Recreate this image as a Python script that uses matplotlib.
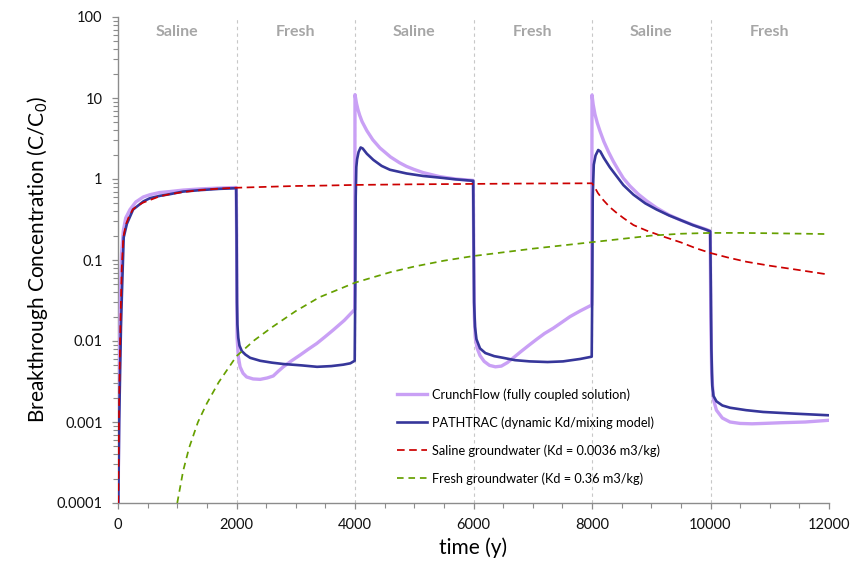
import matplotlib
matplotlib.use("Agg")
import matplotlib.pyplot as plt
from matplotlib.ticker import FixedLocator, FixedFormatter, MultipleLocator, LogLocator, NullFormatter

plt.rcParams['font.family'] = ['Lato', 'DejaVu Sans']
plt.rcParams['mathtext.fontset'] = 'custom'
plt.rcParams['mathtext.rm'] = 'Lato'
plt.rcParams['mathtext.it'] = 'Lato:italic'

# ---------------- data ----------------
crunch_t = [0, 15, 30, 45, 60, 90, 130, 203, 300, 427, 540, 700, 878, 1100, 1400, 1700, 1995,
            2002, 2010, 2030, 2060, 2110, 2170, 2280, 2400, 2520, 2620, 2700, 2790, 2930, 3072, 3210,
            3353, 3490, 3634, 3820, 3995,
            4000, 4025, 4050, 4080, 4120, 4200, 4300, 4420, 4600, 4750, 4870, 5000, 5150, 5430, 5700, 5995,
            6005, 6015, 6030, 6060, 6110, 6180, 6270, 6370, 6470, 6570, 6672, 6800, 6930, 7066, 7200,
            7347, 7490, 7629, 7800, 7995,
            8000, 8020, 8050, 8090, 8135, 8200, 8280, 8360, 8450, 8530, 8640, 8780, 8925, 9090, 9300,
            9500, 9700, 9930, 9995,
            10005, 10020, 10050, 10100, 10200, 10330, 10500, 10700, 10890, 11200, 11600, 12000]
crunch_c = [5e-5, 0.002, 0.01, 0.05, 0.12, 0.23, 0.33, 0.42, 0.52, 0.6, 0.64, 0.68, 0.70, 0.73, 0.755, 0.772, 0.785,
            0.2, 0.011, 0.0065, 0.0048, 0.0040, 0.0036, 0.0034, 0.00336, 0.0035, 0.0037, 0.0042, 0.0048, 0.0057, 0.0067, 0.0079,
            0.0093, 0.0112, 0.0137, 0.018, 0.0245,
            11.0, 8.6, 7.2, 6.1, 5.1, 3.95, 3.05, 2.42, 1.87, 1.59, 1.43, 1.31, 1.2, 1.07, 1.0, 0.96,
            0.1, 0.02, 0.011, 0.0082, 0.0066, 0.0056, 0.005, 0.0048, 0.0049, 0.0054, 0.0062, 0.0074, 0.0088, 0.0105, 0.0124,
            0.0144, 0.017, 0.02, 0.0235, 0.0278,
            10.9, 8.3, 6.3, 4.9, 3.9, 2.9, 2.15, 1.65, 1.27, 1.02, 0.82, 0.65, 0.535, 0.44, 0.36,
            0.31, 0.272, 0.238, 0.228,
            0.02, 0.004, 0.0019, 0.0014, 0.00112, 0.001, 0.00096, 0.00095, 0.00096, 0.00098, 0.001, 0.00105]

pathtrac_t = [0, 20, 35, 50, 68, 96, 150, 255, 430, 540, 709, 878, 1100, 1400, 1700, 1995,
              2002, 2008, 2015, 2030, 2050, 2090, 2150, 2230, 2400, 2600, 2790, 3100, 3360, 3600, 3800, 3920, 3995,
              4005, 4012, 4022, 4035, 4060, 4095, 4130, 4200, 4310, 4450, 4590, 4870, 5150, 5430, 5700, 5995,
              6002, 6010, 6025, 6050, 6110, 6200, 6350, 6500, 6700, 6950, 7250, 7510, 7800, 7995,
              8005, 8012, 8030, 8060, 8105, 8140, 8200, 8300, 8400, 8530, 8700, 8900, 9090, 9300, 9500, 9700, 9930, 9995,
              10005, 10015, 10030, 10050, 10100, 10200, 10330, 10600, 10890, 11400, 12000]
pathtrac_c = [5e-5, 0.001, 0.004, 0.015, 0.043, 0.19, 0.28, 0.42, 0.53, 0.58, 0.62, 0.65, 0.7, 0.73, 0.755, 0.77,
              0.2, 0.03, 0.016, 0.011, 0.0088, 0.0075, 0.0068, 0.0062, 0.0057, 0.0054, 0.0052, 0.005, 0.0048, 0.0049, 0.0051, 0.0053, 0.0057,
              0.05, 0.6, 1.4, 1.75, 2.15, 2.45, 2.38, 2.05, 1.72, 1.45, 1.3, 1.17, 1.09, 1.04, 0.99, 0.95,
              0.2, 0.03, 0.015, 0.0105, 0.0081, 0.0071, 0.0065, 0.0062, 0.0058, 0.0056, 0.0055, 0.0056, 0.006, 0.0064,
              0.05, 0.6, 1.5, 1.95, 2.28, 2.19, 1.82, 1.4, 1.12, 0.84, 0.64, 0.5, 0.42, 0.355, 0.31, 0.27, 0.236, 0.226,
              0.05, 0.008, 0.0028, 0.0021, 0.0018, 0.0016, 0.0015, 0.0014, 0.00133, 0.00127, 0.00121]

saline_t = [0, 20, 40, 62, 90, 130, 174, 250, 315, 420, 540, 700, 878, 1100, 1400, 1700, 2000, 2500, 3000,
            3500, 4000, 5000, 6000, 7000, 8000, 8050, 8100, 8190, 8300, 8400, 8530, 8700, 8925, 9200, 9500,
            9750, 10000, 10300, 10610, 11000, 11450, 12000]
saline_c = [5e-5, 0.002, 0.015, 0.076, 0.19, 0.27, 0.33, 0.42, 0.46, 0.51, 0.55, 0.61, 0.65, 0.69, 0.73, 0.76, 0.78, 0.8, 0.82,
            0.83, 0.845, 0.86, 0.87, 0.88, 0.885, 0.78, 0.67, 0.55, 0.45, 0.39, 0.33, 0.27, 0.23, 0.195, 0.165,
            0.14, 0.122, 0.107, 0.095, 0.085, 0.076, 0.066]

fresh_t = [1000, 1100, 1200, 1350, 1500, 1700, 2000, 2300, 2600, 3000, 3400, 4000, 4600, 5000, 5500, 6000,
           7000, 8000, 8500, 9000, 9500, 10000, 10500, 11000, 12000]
fresh_c = [1e-4, 0.00025, 0.00048, 0.001, 0.0017, 0.0031, 0.0065, 0.0102, 0.0148, 0.0234, 0.0347, 0.0525, 0.0708,
           0.083, 0.098, 0.112, 0.138, 0.166, 0.182, 0.2, 0.211, 0.216, 0.216, 0.214, 0.209]

series_labels = ['CrunchFlow (fully coupled solution)',
                 'PATHTRAC (dynamic Kd/mixing model)',
                 'Saline groundwater (Kd = 0.0036 m3/kg)',
                 'Fresh groundwater (Kd = 0.36 m3/kg)']

period_names = ['Saline', 'Fresh', 'Saline', 'Fresh', 'Saline', 'Fresh']
period_edges = [0, 2000, 4000, 6000, 8000, 10000, 12000]

xtick_major = [0, 2000, 4000, 6000, 8000, 10000, 12000]
xtick_labels = ['0', '2000', '4000', '6000', '8000', '10000', '12000']
ytick_major = [1e-4, 1e-3, 1e-2, 1e-1, 1, 10, 100]
ytick_labels = ['0.0001', '0.001', '0.01', '0.1', '1', '10', '100']

# ---------------- figure ----------------
fig = plt.figure(figsize=(8.66, 5.62), dpi=100)
ax = fig.add_axes([118/866, 1 - 503/562, (829-118)/866, (503-17)/562])

c_purple = '#C9A0F5'
c_blue = '#36369A'
c_red = '#CC0000'
c_green = '#66A000'
c_axis = '#8C8C8C'

for xb in period_edges[1:-1]:
    ax.axvline(xb, color='#C8C8C8', lw=0.8, dashes=(3, 3), zorder=1)

l1, = ax.plot(crunch_t, crunch_c, color=c_purple, lw=2.4, zorder=3, solid_joinstyle='round')
l2, = ax.plot(pathtrac_t, pathtrac_c, color=c_blue, lw=1.9, zorder=4, solid_joinstyle='round')
l3, = ax.plot(saline_t, saline_c, color=c_red, lw=1.25, dashes=(4.4, 2.6), zorder=5)
l4, = ax.plot(fresh_t, fresh_c, color=c_green, lw=1.25, dashes=(3.8, 2.8), zorder=5)

ax.set_yscale('log')
ax.set_xlim(0, 12000)
ax.set_ylim(1e-4, 100)

ax.xaxis.set_major_locator(FixedLocator(xtick_major))
ax.xaxis.set_major_formatter(FixedFormatter(xtick_labels))
ax.xaxis.set_minor_locator(MultipleLocator(500))
ax.yaxis.set_major_locator(FixedLocator(ytick_major))
ax.yaxis.set_major_formatter(FixedFormatter(ytick_labels))
ax.yaxis.set_minor_locator(LogLocator(base=10, subs=[2, 3, 4, 5, 6, 7, 8, 9], numticks=20))
ax.yaxis.set_minor_formatter(NullFormatter())

for s in ['top', 'right']:
    ax.spines[s].set_visible(False)
for s in ['left', 'bottom']:
    ax.spines[s].set_color(c_axis)
    ax.spines[s].set_linewidth(1.0)

ax.tick_params(axis='both', which='major', direction='out', length=4, width=0.9, color=c_axis,
               labelsize=10.5, labelcolor='#111111')
ax.tick_params(axis='both', which='minor', direction='out', length=3.5, width=0.8, color=c_axis)
ax.tick_params(axis='y', which='major', pad=7)
ax.tick_params(axis='x', which='major', pad=7)

ax.set_xlabel('time (y)', fontsize=15, labelpad=4)
ax.set_ylabel('Breakthrough Concentration (C/C$_0$)', fontsize=15, labelpad=5)

for i, name in enumerate(period_names):
    xm = (period_edges[i] + period_edges[i + 1]) / 2
    ax.text(xm, 0.969, name, transform=ax.get_xaxis_transform(), ha='center', va='center',
            fontsize=11.5, fontweight='bold', color='#A6A6A6')

leg = ax.legend([l1, l2, l3, l4], series_labels, loc='upper left',
                bbox_to_anchor=(397/866, 1 - 388/562), bbox_transform=fig.transFigure,
                frameon=False, fontsize=9.2, handlelength=2.35, handletextpad=0.4,
                labelspacing=1.22, borderpad=0, borderaxespad=0)

fig.savefig('out.png', dpi=100)
